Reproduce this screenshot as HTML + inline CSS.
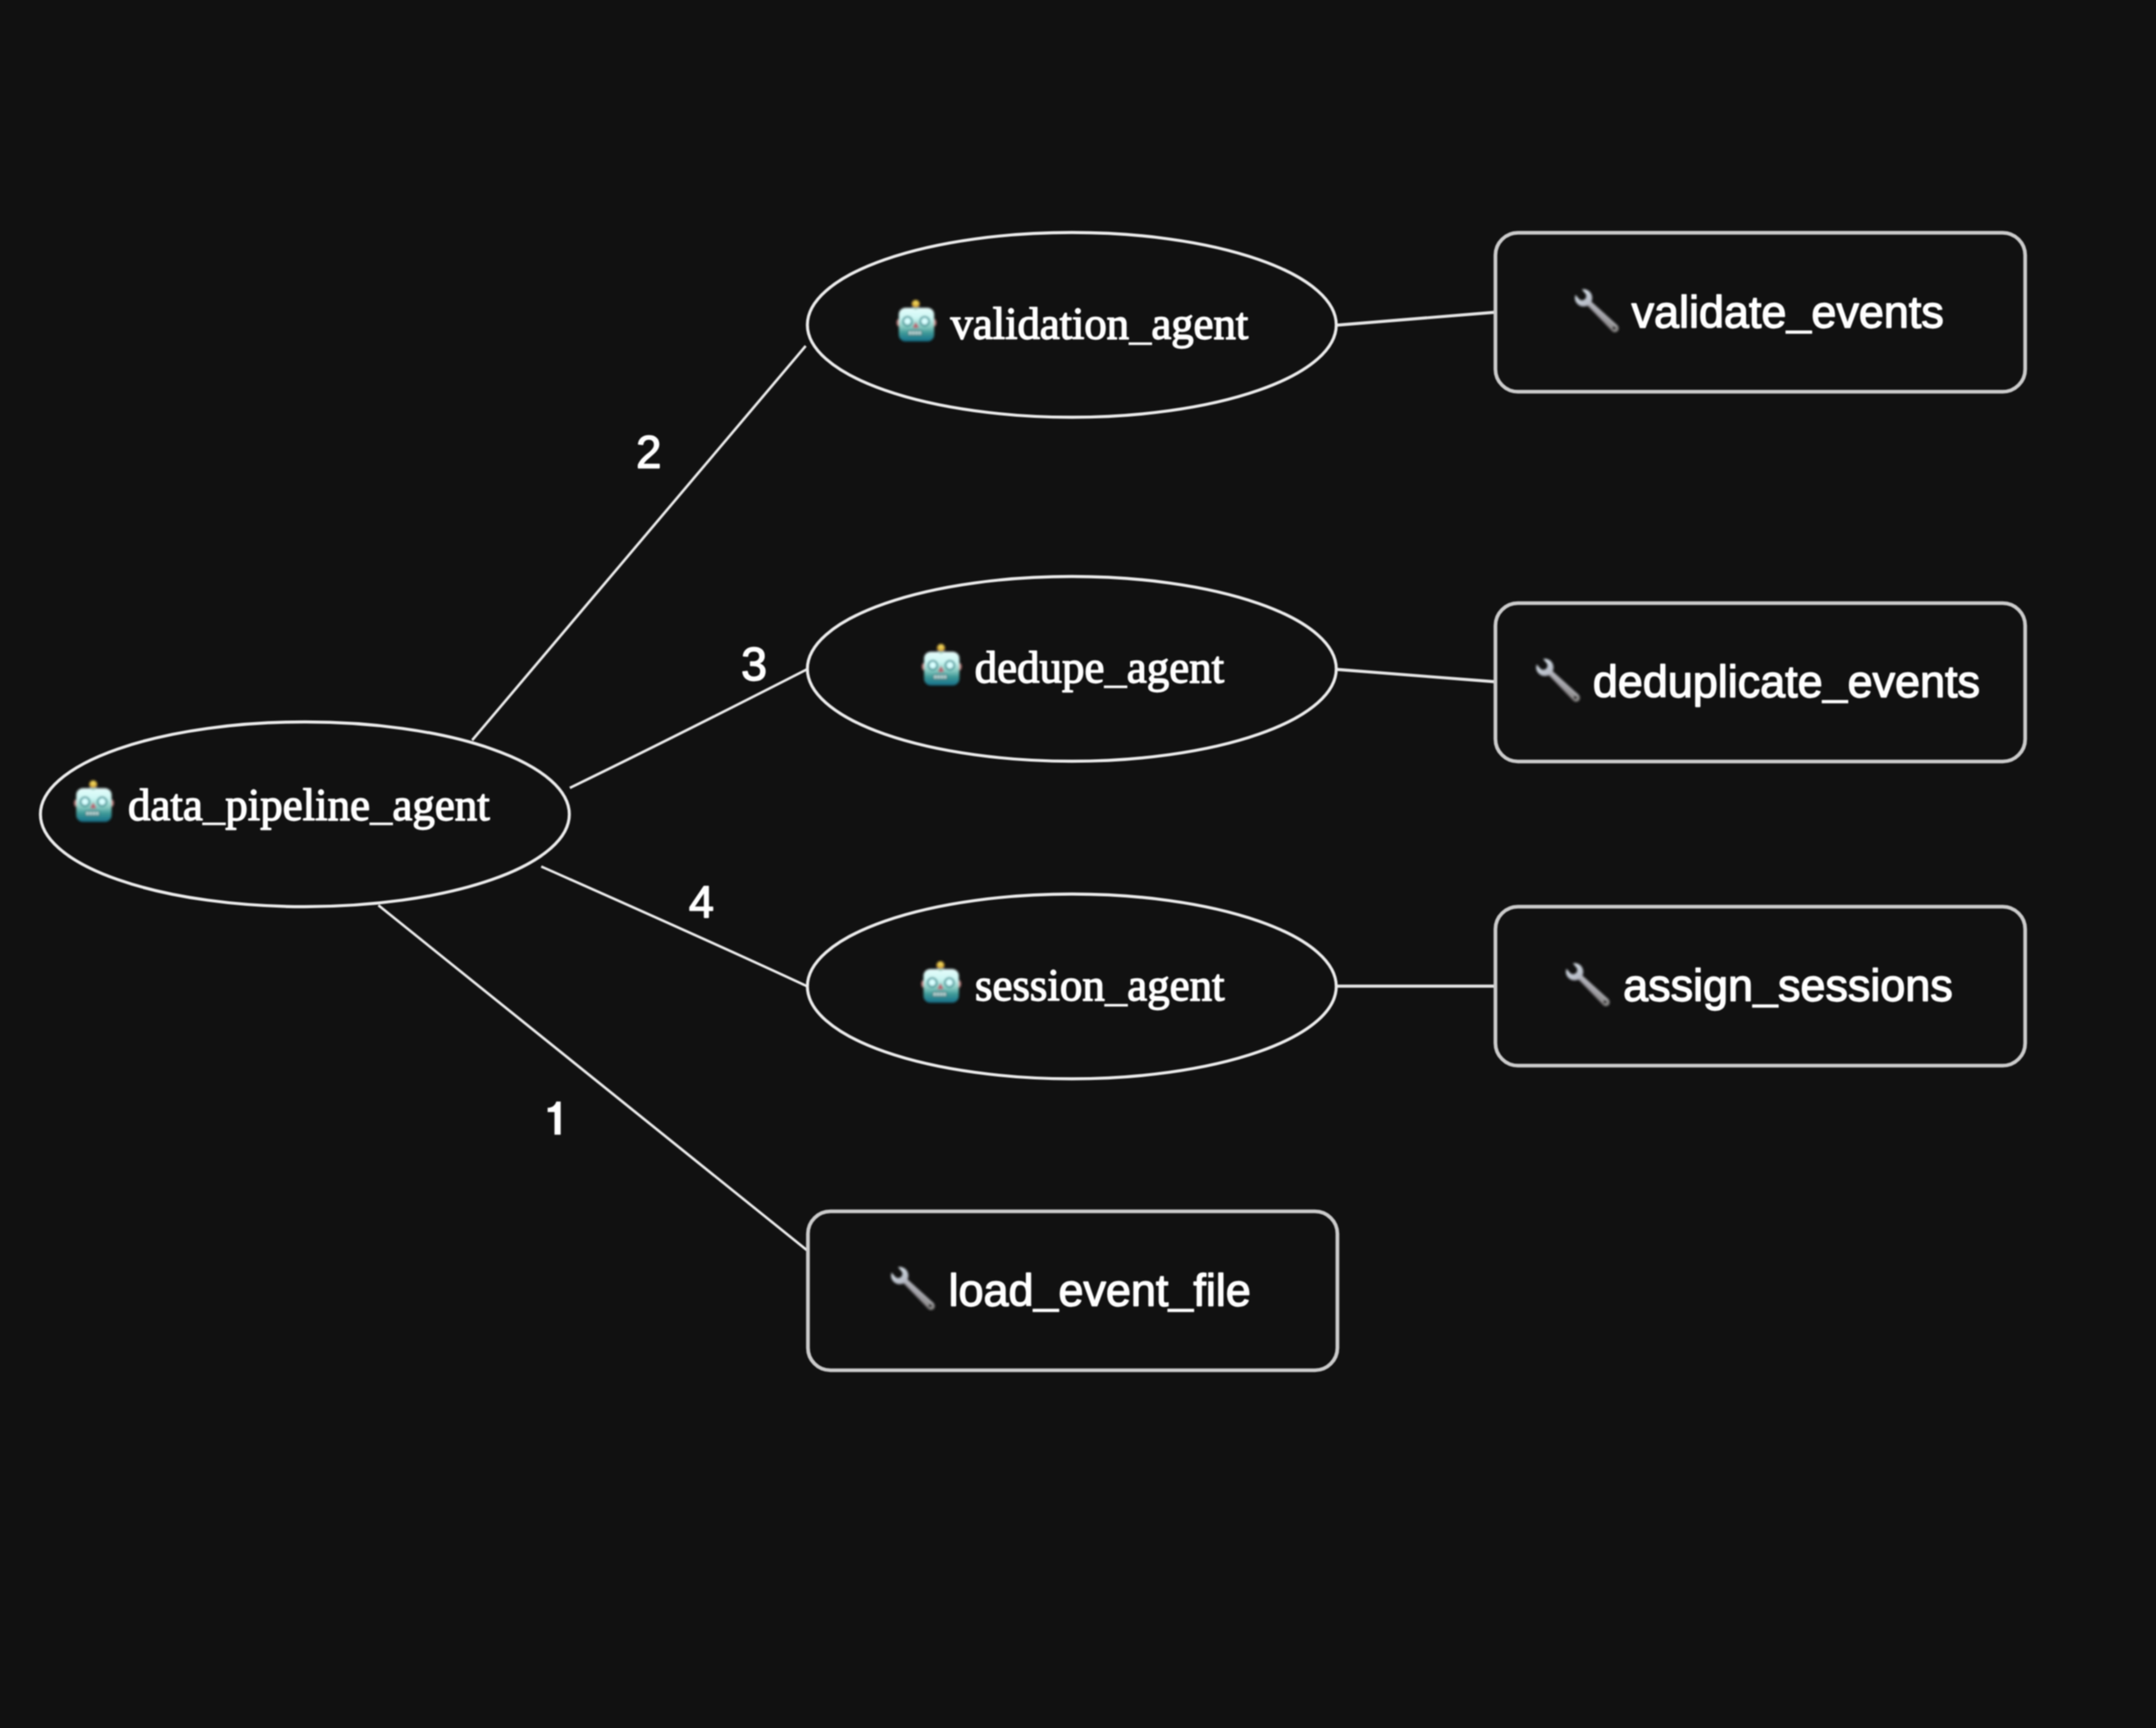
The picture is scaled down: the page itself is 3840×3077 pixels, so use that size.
<!DOCTYPE html>
<html>
<head>
<meta charset="utf-8">
<title>Agent graph</title>
<style>
  html, body { margin: 0; padding: 0; background: #111111; }
  body { width: 3840px; height: 3077px; overflow: hidden; }
  svg { display: block; }
  .serif { font-family: "Liberation Serif", serif; font-size: 80px; fill: #ffffff; stroke: #ffffff; stroke-width: 2.3px; stroke-linejoin: round; }
  .sans { font-family: "Liberation Sans", sans-serif; font-size: 80px; fill: #ffffff; stroke: #ffffff; stroke-width: 2.3px; stroke-linejoin: round; }
  .us { stroke-width: 0.7px; }
  .node { fill: none; stroke: #ececec; stroke-width: 5.4; }
  .box { fill: none; stroke: #cbcbcb; stroke-width: 6.6; }
  .edge { fill: none; stroke: #ececec; stroke-width: 4.6; stroke-linecap: butt; }
  .edge2 { fill: none; stroke: #e6e6e6; stroke-width: 5.4; stroke-linecap: butt; }
</style>
</head>
<body>
<svg width="3840" height="3077" viewBox="0 0 3840 3077">
  <defs>
    <filter id="soft" x="-2%" y="-2%" width="104%" height="104%">
      <feGaussianBlur stdDeviation="1.1"/>
    </filter>
    <filter id="soft2" x="-10%" y="-10%" width="120%" height="120%">
      <feGaussianBlur stdDeviation="1.9"/>
    </filter>
    <linearGradient id="headGrad" x1="0" y1="0" x2="0" y2="1">
      <stop offset="0" stop-color="#e6fcfb"/>
      <stop offset="0.30" stop-color="#cdf7f4"/>
      <stop offset="0.55" stop-color="#8ccdc4"/>
      <stop offset="0.74" stop-color="#3f9a98"/>
      <stop offset="1" stop-color="#15708a"/>
    </linearGradient>
    <radialGradient id="ballGrad" cx="0.5" cy="0.35" r="0.65">
      <stop offset="0" stop-color="#f3e467"/>
      <stop offset="0.6" stop-color="#d9ae3e"/>
      <stop offset="1" stop-color="#a87a2a"/>
    </radialGradient>
    <linearGradient id="wrHead" x1="0.2" y1="0" x2="0.8" y2="1">
      <stop offset="0" stop-color="#e6eef3"/>
      <stop offset="0.5" stop-color="#c3cbd5"/>
      <stop offset="1" stop-color="#b0b2bd"/>
    </linearGradient>
    <linearGradient id="wrHandle" x1="0" y1="0" x2="1" y2="1">
      <stop offset="0" stop-color="#b3b5bd"/>
      <stop offset="0.5" stop-color="#a09fa5"/>
      <stop offset="1" stop-color="#8b8a87"/>
    </linearGradient>

    <mask id="slotMask" maskUnits="userSpaceOnUse" x="0" y="0" width="120" height="110">
      <rect x="0" y="0" width="120" height="110" fill="#ffffff"/>
      <path d="M37.7 27.2 L18.5 4.1" stroke="#000000" stroke-width="15" stroke-linecap="round" fill="none"/>
    </mask>

    <!-- robot face emoji: local box 72 x 76, origin = top-left -->
    <g id="robot">
      <!-- ears -->
      <ellipse cx="5.4" cy="41" rx="3.4" ry="6.4" fill="#d58a8a"/>
      <ellipse cx="69.2" cy="41" rx="3.4" ry="6.4" fill="#d58a8a"/>
      <!-- antenna -->
      <rect x="32.6" y="11" width="6.8" height="8" fill="#5fa296"/>
      <circle cx="36" cy="7.8" r="7.3" fill="url(#ballGrad)"/>
      <!-- head -->
      <rect x="5.8" y="14.4" width="63" height="60.2" rx="12" ry="12" fill="url(#headGrad)"/>
      <!-- antenna socket -->
      <path d="M30.5 14.4 Q36 20.5 41.5 14.4 Z" fill="#6fb3a6"/>
      <!-- eyes -->
      <circle cx="21.4" cy="38.4" r="9.4" fill="#27878a"/>
      <circle cx="21.4" cy="38.4" r="6.3" fill="#d8ffff"/>
      <circle cx="51.9" cy="38.4" r="9.4" fill="#27878a"/>
      <circle cx="51.9" cy="38.4" r="6.3" fill="#d8ffff"/>
      <!-- nose -->
      <path d="M36 41.8 L39.8 49.2 L32.2 49.2 Z" fill="#b85c6c" stroke="#b85c6c" stroke-width="2.6" stroke-linejoin="round"/>
      <!-- mouth -->
      <rect x="22" y="54.6" width="25.4" height="9.4" rx="1.8" fill="#2f6f74"/>
      <rect x="23.6" y="56.4" width="4.2" height="5.8" fill="#cfe6e4"/>
      <rect x="29.5" y="56.4" width="4.2" height="5.8" fill="#cfe6e4"/>
      <rect x="35.4" y="56.4" width="4.2" height="5.8" fill="#cfe6e4"/>
      <rect x="41.3" y="56.4" width="4.2" height="5.8" fill="#cfe6e4"/>
    </g>

    <!-- wrench emoji: local coords relative to crop origin; tip of jaw near (40,15), end of handle near (103,92) -->
    <g id="wrench">
      <!-- handle -->
      <path d="M46.6 43.6 L53.4 36.4 L101.2 80.1 A6.8 6.8 0 0 1 91.8 89.9 Z" fill="url(#wrHandle)"/>
      <path d="M53.4 36.4 L101.2 80.1 L99.3 82.1 L51.9 38 Z" fill="#c6c7cd" opacity="0.7"/>
      <path d="M46.6 43.6 L91.8 89.9 L93.4 88.3 L48 42.1 Z" fill="#7c7678" opacity="0.75"/>
      <!-- head -->
      <circle cx="40.5" cy="30.4" r="15.4" fill="url(#wrHead)" mask="url(#slotMask)"/>
      <!-- hole -->
      <circle cx="94.8" cy="84" r="2.9" fill="#111111"/>
    </g>
  </defs>

  <rect x="0" y="0" width="3840" height="3077" fill="#111111"/>

  <g filter="url(#soft)">
    <!-- edges -->
    <path class="edge" d="M841 1318 C 1040 1083 1237 850 1435 616"/>
    <path class="edge" d="M1015 1403 C 1155 1335 1296 1264 1437 1192"/>
    <path class="edge" d="M964 1543 C 1120 1612 1278 1682 1437 1756"/>
    <path class="edge" d="M674 1612 C 930 1819 1184 2023 1437 2226"/>
    <path class="edge2" d="M2381 579 L2663 556"/>
    <path class="edge2" d="M2381 1192 L2663 1214"/>
    <path class="edge2" d="M2381 1756 L2663 1756"/>

    <!-- ellipse nodes -->
    <ellipse class="node" cx="543" cy="1450" rx="471" ry="164.5"/>
    <ellipse class="node" cx="1909" cy="578.5" rx="471" ry="164.5"/>
    <ellipse class="node" cx="1909" cy="1191" rx="471" ry="164.5"/>
    <ellipse class="node" cx="1909" cy="1756.5" rx="471" ry="164.5"/>

    <!-- box nodes -->
    <rect class="box" x="2663.5" y="414.5" width="943.5" height="283" rx="40" ry="40"/>
    <rect class="box" x="2663.5" y="1074" width="943.5" height="282" rx="40" ry="40"/>
    <rect class="box" x="2663.5" y="1614.5" width="943.5" height="283" rx="40" ry="40"/>
    <rect class="box" x="1439" y="2157" width="943" height="283" rx="40" ry="40"/>

    <!-- node labels -->
    <text class="serif" x="228" y="1460">data<tspan class="us" dy="-1.4">_</tspan><tspan dy="1.4">pipeline</tspan><tspan class="us" dy="-1.4">_</tspan><tspan dy="1.4">agent</tspan></text>
    <text class="serif" x="1693" y="602.5" style="letter-spacing:-0.2px">validation<tspan class="us" dy="1.2">_</tspan><tspan dy="-1.2">agent</tspan></text>
    <text class="serif" x="1736" y="1215.4">dedupe<tspan class="us">_</tspan>agent</text>
    <text class="serif" x="1736.5" y="1781">session<tspan class="us" dy="1.1">_</tspan><tspan dy="-1.1">agent</tspan></text>

    <text class="sans" x="2906" y="582.5">validate<tspan class="us" dy="-4.2">_</tspan><tspan dy="4.2">events</tspan></text>
    <text class="sans" x="2837" y="1240.5">deduplicate<tspan class="us" dy="-4.2">_</tspan><tspan dy="4.2">events</tspan></text>
    <text class="sans" x="2891" y="1782">assign<tspan class="us" dy="-4.2">_</tspan><tspan dy="4.2">sessions</tspan></text>
    <text class="sans" x="1689.5" y="2324.5">load<tspan class="us" dy="-4.2">_</tspan><tspan dy="4.2">event</tspan><tspan class="us" dy="-4.2">_</tspan><tspan dy="4.2">file</tspan></text>

    <!-- edge labels -->
    <text class="sans" x="1133" y="833.4" style="font-size:81px">2</text>
    <text class="sans" x="1320" y="1211" style="font-size:83px">3</text>
    <text class="sans" x="1227" y="1633.2">4</text>
    <path d="M987.6 2020.6 L987.6 1980.2 L975.4 1980.2 L975.4 1972.6 C983.5 1972.4 988.6 1968.4 990.8 1961.4 L998.6 1961.4 L998.6 2020.6 Z" fill="#ffffff"/>
  </g>

  <g filter="url(#soft2)">
    <use href="#robot" x="130" y="1389"/>
    <use href="#robot" x="1595" y="533.5"/>
    <use href="#robot" x="1640" y="1146"/>
    <use href="#robot" x="1639" y="1711"/>

    <use href="#wrench" x="2780" y="500"/>
    <use href="#wrench" x="2711" y="1158"/>
    <use href="#wrench" x="2764" y="1700"/>
    <use href="#wrench" x="1562" y="2241"/>
  </g>
</svg>
</body>
</html>
